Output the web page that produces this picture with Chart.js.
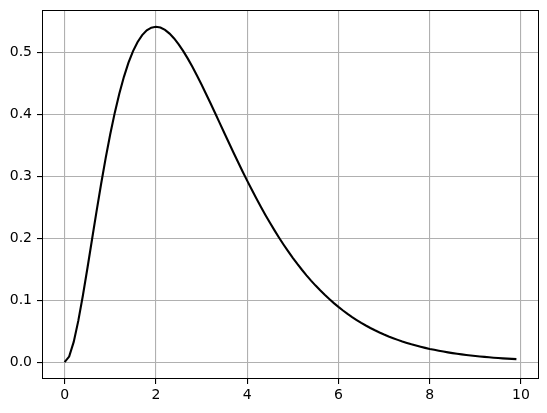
<!DOCTYPE html>
<html>
<head>
<meta charset="utf-8">
<script src="https://cdn.jsdelivr.net/npm/chart.js@4/dist/chart.umd.min.js"></script>
<style>
  html, body { margin: 0; padding: 0; background: #fff; }
  #wrap { width: 547px; height: 413px; position: relative; }
</style>
</head>
<body>
<div id="wrap"><canvas id="my-chart"></canvas></div>
<script>
// x positions of the curve samples
const xs = [
  0.0, 0.1, 0.2, 0.3, 0.4, 0.5, 0.6, 0.7, 0.8, 0.9,
  1.0, 1.1, 1.2, 1.3, 1.4, 1.5, 1.6, 1.7, 1.8, 1.9,
  2.0, 2.1, 2.2, 2.3, 2.4, 2.5, 2.6, 2.7, 2.8, 2.9,
  3.0, 3.1, 3.2, 3.3, 3.4, 3.5, 3.6, 3.7, 3.8, 3.9,
  4.0, 4.1, 4.2, 4.3, 4.4, 4.5, 4.6, 4.7, 4.8, 4.9,
  5.0, 5.1, 5.2, 5.3, 5.4, 5.5, 5.6, 5.7, 5.8, 5.9,
  6.0, 6.1, 6.2, 6.3, 6.4, 6.5, 6.6, 6.7, 6.8, 6.9,
  7.0, 7.1, 7.2, 7.3, 7.4, 7.5, 7.6, 7.7, 7.8, 7.9,
  8.0, 8.1, 8.2, 8.3, 8.4, 8.5, 8.6, 8.7, 8.8, 8.9,
  9.0, 9.1, 9.2, 9.3, 9.4, 9.5, 9.6, 9.7, 9.8, 9.9
]

// curve values
const ys = [
  0.00000, 0.00905, 0.03275, 0.06667, 0.10725, 0.15163, 0.19757, 0.24333, 0.28757, 0.32932,
  0.36788, 0.40277, 0.43372, 0.46058, 0.48333, 0.50204, 0.51686, 0.52796, 0.53557, 0.53994,
  0.54134, 0.54003, 0.53629, 0.53037, 0.52254, 0.51303, 0.50209, 0.48993, 0.47675, 0.46274,
  0.44808, 0.43292, 0.41740, 0.40166, 0.38579, 0.36991, 0.35412, 0.33847, 0.32304, 0.30788,
  0.29305, 0.27859, 0.26453, 0.25089, 0.23768, 0.22496, 0.21270, 0.20091, 0.18962, 0.17880,
  0.16845, 0.15858, 0.14918, 0.14023, 0.13172, 0.12363, 0.11597, 0.10871, 0.10186, 0.09534,
  0.08924, 0.08346, 0.07800, 0.07287, 0.06808, 0.06350, 0.05924, 0.05526, 0.05151, 0.04799,
  0.04469, 0.04159, 0.03872, 0.03602, 0.03346, 0.03111, 0.02888, 0.02686, 0.02494, 0.02315,
  0.02144, 0.01995, 0.01849, 0.01715, 0.01588, 0.01467, 0.01361, 0.01264, 0.01169, 0.01077,
  0.00996, 0.00927, 0.00855, 0.00791, 0.00731, 0.00676, 0.00624, 0.00577, 0.00533, 0.00492
]

const xTicks = [0, 2, 4, 6, 8, 10]
const yTicks = [0.0, 0.1, 0.2, 0.3, 0.4, 0.5]

const points = xs.map((x, i) => ({ x: x, y: ys[i] }))

// black box around the plot area, snapped to whole pixels
const frame = {
  id: 'frame',
  afterDatasetsDraw(chart) {
    const a = chart.chartArea
    const ctx = chart.ctx
    const l = Math.round(a.left) + 0.5
    const t = Math.round(a.top) + 0.5
    const r = Math.round(a.right) - 0.5
    const b = Math.round(a.bottom) - 0.5
    ctx.save()
    ctx.strokeStyle = '#000'
    ctx.lineWidth = 1
    ctx.strokeRect(l, t, r - l, b - t)
    ctx.restore()
  }
}

const font = { family: 'DejaVu Sans', size: 14 }

new Chart(document.getElementById('my-chart'), {
  type: 'line',
  data: {
    datasets: [
      {
        data: points,
        borderColor: '#000',
        borderWidth: 2.1,
        pointRadius: 0,
        tension: 0,
        fill: false
      }
    ]
  },
  options: {
    responsive: true,
    maintainAspectRatio: false,
    animation: false,
    events: [],
    layout: { padding: { top: 10, right: 8, left: 0, bottom: 0 } },
    plugins: {
      legend: { display: false },
      tooltip: { enabled: false }
    },
    scales: {
      x: {
        type: 'linear',
        min: -0.495,
        max: 10.395,
        afterBuildTicks: s => { s.ticks = xTicks.map(v => ({ value: v })) },
        afterFit: s => {
          s.height = 34
          s.paddingLeft = 0
          s.paddingRight = 0
        },
        ticks: {
          color: '#000',
          font: font,
          padding: 3,
          maxRotation: 0,
          callback: v => String(v)
        },
        grid: {
          color: '#b0b0b0',
          lineWidth: 1.1,
          tickColor: '#000',
          tickLength: 5,
          drawTicks: true
        },
        border: { display: false }
      },
      y: {
        type: 'linear',
        min: -0.0271,
        max: 0.5684,
        afterBuildTicks: s => { s.ticks = yTicks.map(v => ({ value: v })) },
        afterFit: s => {
          s.width = 42
          s.paddingTop = 0
          s.paddingBottom = 0
        },
        ticks: {
          color: '#000',
          font: font,
          padding: 5,
          callback: v => v.toFixed(1)
        },
        grid: {
          color: '#b0b0b0',
          lineWidth: 1.1,
          tickColor: '#000',
          tickLength: 5,
          drawTicks: true
        },
        border: { display: false }
      }
    }
  },
  plugins: [frame]
})
</script>
</body>
</html>
